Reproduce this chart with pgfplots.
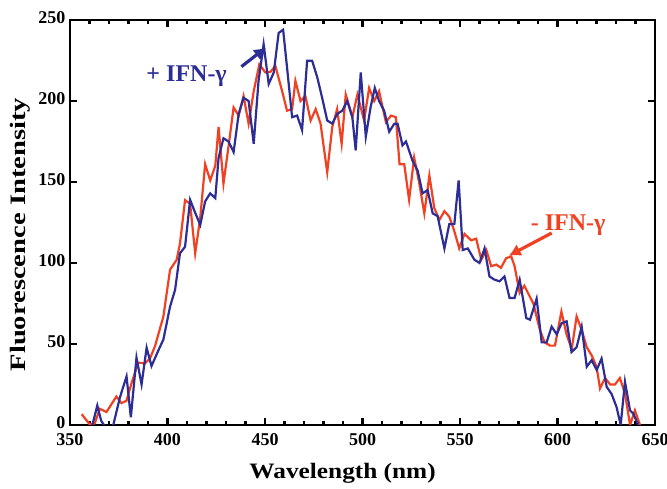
\documentclass[border=0pt]{standalone}
\usepackage{pgfplots}
\pgfplotsset{compat=1.18}
\usetikzlibrary{arrows.meta}
\usepackage{fontspec}
\setmainfont{Liberation Serif}
\definecolor{cblue}{RGB}{45,45,150}
\definecolor{cred}{RGB}{240,65,35}
\begin{document}
\begin{tikzpicture}
\path[use as bounding box] (-70pt,-64pt) rectangle (597pt,425pt);
\begin{axis}[
  scale only axis, width=585pt, height=405pt,
  xmin=350, xmax=650, ymin=0, ymax=250,
  xtick={350,400,...,650}, ytick={0,50,...,250},
  minor x tick num=4,
  tick align=inside,
  major tick length=7pt, minor tick length=4pt,
  axis line style={line width=2.4pt},
  every tick/.style={line width=2.2pt, black},
  /pgf/number format/assume math mode=true,
  /pgf/number format/1000 sep={},
  ticklabel style={font=\fontsize{18}{18}\selectfont\bfseries},
  xticklabel style={yshift=-5pt},
  yticklabel style={xshift=-1pt, yshift=2pt},
  xlabel={\scalebox{1.15}[1]{\fontsize{22}{22}\selectfont\bfseries Wavelength (nm)}},
  ylabel={\scalebox{1.3}[1]{\fontsize{22}{22}\selectfont\bfseries Fluorescence Intensity}},
  xlabel style={at={(rel axis cs:0.466,0)}, anchor=center, yshift=-48pt},
  ylabel style={at={(rel axis cs:0,0.47)}, anchor=center, yshift=50pt},
  clip=true,
]
\addplot[cred, line width=2.2pt] coordinates {
(356,6.7)(360,0.5)(362.7,1)(365.3,10)(368.7,8)(373.8,17.6)(376.4,13.5)(379,15)
(381.6,26)(385,38.5)(388.4,38)(391,41)(393.6,48.7)(397.9,67)(401.3,95.8)(404.7,102)
(406.4,112)(409,138.8)(411.6,136.5)(414.2,106)(416.8,128)(419.3,161)(421.9,151)
(424.5,160)(426.2,184)(428.7,149)(431.3,172)(433.9,196)(436.5,191)(439,203)
(441.6,186)(444.2,206)(447.1,222.6)(450.2,217.6)(452.8,218)(455.3,221.7)(458.8,206)
(461.3,194)(463.9,195)(465.6,212.5)(468.2,200)(470.7,203)(473.4,188)(476,195)
(478.5,186)(481.9,156)(484.5,184)(487,195)(489.3,173.6)(491.4,204)(494.8,190)
(497.4,204)(500.8,188)(503.4,208)(506,200)(508.5,206)(512,187)(514.6,191)
(517.1,190)(519,161)(521.4,161)(523.9,139)(526.5,165)(529,150)(531.7,130.6)
(534.3,154)(536.8,134)(539.4,126.5)(542,132)(544.5,128.6)(547,120)(549.6,109)
(552.3,118)(555.7,114)(558.3,115)(560.9,102)(563.5,108)(566,98)(568.6,99)
(571,97)(573.7,103)(576.3,104)(578,98)(580.6,81.5)(583,86)(585.9,79)(587.6,75)
(591,58.6)(593.4,51)(596.2,49)(598.7,49)(602,70)(604.7,55.6)(607.3,47)(609.8,67)
(612.4,58.6)(615,48)(617.5,43)(620,36)(621.8,22.6)(624.4,29)(627,25)(629.5,25)
(632,29)(634.6,19.6)(637.2,0)(639.7,9)(642.3,0)
};
\addplot[cblue, line width=2.2pt] coordinates {
(361.5,0)(364,12)(366,2.6)(369,-3)(372,-1)(375.6,17)(379,30)(381.2,4.7)
(384.1,41.6)(386.7,25)(389.3,47.7)(391.8,36.4)(395.3,46)(397.9,52.8)(401.3,73)
(403.9,83.5)(406.4,106)(409,110)(411.6,139)(414.2,131)(416.8,123.5)(419.3,138)
(421.9,143)(424.5,140)(426.2,165)(428.7,177)(431.3,175)(433.9,168.5)(436.5,192)
(439,202)(441.6,200)(444.2,173.6)(446.7,212.5)(449.3,235)(451.9,210.5)(454.5,217.6)
(457,242)(459.3,244)(461.3,220.7)(463.9,190)(466.5,191)(469,182)(471.6,224.8)
(474.2,224.8)(476.8,214.6)(479.3,202)(481.9,188)(484.5,186)(487,192)(489.6,194)
(492.2,200)(494.8,190)(496.5,169.5)(499.1,217.6)(501.7,178)(504.2,196.5)(506.3,208)
(508.5,200)(511.1,194)(513.7,181)(516.3,186)(518,186)(520.5,172.6)(522.3,175)
(525.7,163)(528.3,157)(530.8,143)(533.4,145)(536,130.6)(538.5,129)(542,109)
(544.5,124)(547.1,124)(549.3,151)(551.4,108)(554,109)(557.4,102)(560,100)
(562.6,109)(565.1,91.7)(567.7,89.7)(570.3,88.7)(572.8,91.7)(575.4,78.4)(578,78.4)
(580.6,89.7)(584,66)(585.9,65)(589.3,78)(591.9,51)(594.4,51)(597,60.7)(599.6,56)
(602.1,62.8)(604.7,64)(607.2,45)(609.8,48)(612.4,60.7)(615,36)(617.5,40)(620.1,34)
(622.6,41)(625.2,23.6)(627.8,19)(630.3,11)(632.4,0)(634.6,26.7)(637.2,9)(638.9,7)
(641.4,0)
};
\draw[cblue, line width=3.2pt, -{Latex[length=12pt,width=13pt]}] (axis cs:437.9,221.2) -- (axis cs:450.5,233);
\node[cblue, font=\fontsize{24}{24}\selectfont\bfseries] at (axis cs:409.8,215) {+ IFN-γ};
\draw[cred, line width=3.2pt, -{Latex[length=12pt,width=13pt]}] (axis cs:597,118.5) -- (axis cs:575,104.5);
\node[cred, font=\fontsize{24}{24}\selectfont\bfseries] at (axis cs:605.4,123.5) {- IFN-γ};
\end{axis}
\end{tikzpicture}
\end{document}
